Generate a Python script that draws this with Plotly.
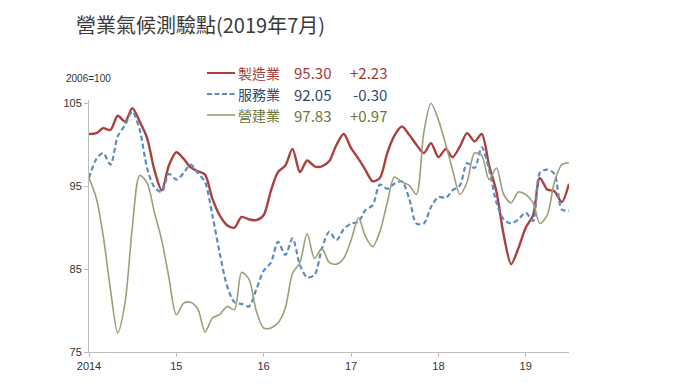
import plotly.graph_objects as go
import pandas as pd

months = pd.date_range("2014-01-01", "2019-07-01", freq="MS")

manufacturing = [101.3, 101.4, 102.0, 101.8, 103.5, 102.8, 104.4, 102.8, 100.8, 97.0,
                 94.5, 97.5, 99.1, 98.3, 97.3, 96.8, 96.4, 93.5, 91.5, 90.3,
                 90.0, 91.3, 91.0, 90.9, 91.5, 94.5, 96.7, 97.5, 99.5, 96.7,
                 98.1, 97.4, 97.4, 98.0, 100.0, 101.3, 99.6, 98.3, 97.0, 95.6,
                 96.0, 99.0, 101.1, 102.2, 101.2, 100.0, 99.0, 100.2, 98.5, 99.5,
                 98.5, 99.8, 101.4, 100.4, 101.3, 97.5, 94.3, 89.1, 85.6, 87.5,
                 90.0, 91.5, 96.0, 94.6, 94.4, 93.1, 95.30]
services = [96.0, 98.3, 99.0, 97.6, 101.0, 102.4, 104.0, 101.8, 97.2, 94.9,
            94.3, 96.5, 95.8, 96.6, 97.6, 96.6, 95.5, 91.5, 87.0, 83.0,
            81.0, 80.8, 80.5, 82.5, 84.8, 85.8, 88.3, 86.7, 88.7, 85.5,
            84.0, 84.3, 87.5, 89.5, 88.5, 89.8, 90.5, 90.7, 92.1, 92.7,
            95.2, 94.7, 95.3, 95.6, 93.5, 90.5, 90.5, 92.5, 93.7, 93.6,
            94.5, 95.1, 97.8, 97.2, 99.7, 97.0, 93.0, 91.0, 90.5, 91.0,
            91.8, 90.8, 96.6, 97.0, 96.5, 92.2, 92.05]
construction = [96.0, 93.5, 89.1, 82.5, 77.3, 81.0, 90.0, 96.3, 95.4, 91.9,
                88.5, 84.0, 79.5, 80.9, 81.0, 80.2, 77.4, 79.1, 79.5, 80.5,
                80.1, 84.6, 83.8, 80.0, 77.9, 77.9, 78.5, 80.3, 84.5, 85.8,
                89.3, 86.3, 87.5, 85.8, 85.6, 86.3, 88.5, 91.2, 89.0, 87.7,
                89.5, 93.0, 96.1, 95.5, 95.1, 94.0, 101.5, 105.0, 103.0, 100.0,
                97.0, 94.0, 95.5, 99.0, 98.7, 95.8, 97.2, 94.0, 93.0, 94.3,
                94.0, 93.0, 90.5, 91.5, 95.5, 97.6, 97.83]

series_names = ["製造業", "服務業", "營建業"]
latest = ["95.30", "92.05", "97.83"]
changes = ["+2.23", "-0.30", "+0.97"]

year_ticks = ["2014-01-01", "2015-01-01", "2016-01-01", "2017-01-01", "2018-01-01", "2019-01-01"]
year_labels = ["2014", "15", "16", "17", "18", "19"]
y_ticks = [75, 85, 95, 105]

line_colors = ["#A8413F", "#5B8DBE", "#9C9F79"]
text_colors = ["#9E3B3A", "#2C4A72", "#6A7638"]
dashes = ["solid", "5px,3px", "solid"]
widths = [2.4, 2.2, 1.6]

# page has an 8px body margin
OFF = 8
W, H = 680, 383
# plot area in page pixels
L, R, T, B = 89, 569, 100, 352


def px(x):
    return (x - L) / (R - L)


def py(y):
    return (B - y) / (B - T)


fig = go.Figure()
for vals, name, c, d, w in zip([manufacturing, services, construction], series_names,
                               line_colors, dashes, widths):
    fig.add_trace(go.Scatter(x=months, y=vals, mode="lines", name=name,
                             line=dict(color=c, dash=d, width=w, shape="spline", smoothing=0.8),
                             showlegend=False))

font_cjk = "Noto Sans CJK TC"
font_lat = "Liberation Sans"

annotations = [
    dict(x=px(74), y=py(25), xref="paper", yref="paper", text="營業氣候測驗點(2019年7月)",
         showarrow=False, xanchor="left", yanchor="middle",
         font=dict(family=font_cjk, size=20, color="#3A3A3A")),
    dict(x=px(64), y=py(78), xref="paper", yref="paper", text="2006=100",
         showarrow=False, xanchor="left", yanchor="middle",
         font=dict(family=font_lat, size=10, color="#333333")),
]
shapes = []
rows_y = [73, 94, 115]
for i in range(3):
    yy = py(rows_y[i])
    shapes.append(dict(type="line", xref="paper", yref="paper", x0=px(207), x1=px(235),
                       y0=yy, y1=yy, line=dict(color=line_colors[i], width=2 if i < 2 else 1.6,
                                               dash="5px,2.5px" if i == 1 else "solid")))
    annotations.append(dict(x=px(236), y=yy, xref="paper", yref="paper", text=series_names[i],
                            showarrow=False, xanchor="left", yanchor="middle",
                            font=dict(family=font_cjk, size=14, color=text_colors[i])))
    annotations.append(dict(x=px(292), y=yy, xref="paper", yref="paper", text=latest[i],
                            showarrow=False, xanchor="left", yanchor="middle",
                            font=dict(family=font_cjk, size=15, color=text_colors[i])))
    annotations.append(dict(x=px(389), y=yy, xref="paper", yref="paper", text=changes[i],
                            showarrow=False, xanchor="right", yanchor="middle",
                            font=dict(family=font_cjk, size=15, color=text_colors[i])))

fig.update_layout(
    width=W, height=H,
    margin=dict(l=L - OFF, r=W - (R - OFF), t=T - OFF, b=H - (B - OFF)),
    paper_bgcolor="white", plot_bgcolor="white",
    annotations=annotations, shapes=shapes,
    xaxis=dict(range=["2014-01-01", "2019-07-01"], tickvals=year_ticks, ticktext=year_labels,
               showgrid=False, zeroline=False, showline=True, linecolor="#BDBDBD", linewidth=1,
               ticks="outside", ticklen=4, tickcolor="#BDBDBD",
               tickfont=dict(family=font_lat, size=11, color="#333333")),
    yaxis=dict(range=[75, 105.4], tickvals=y_ticks, showgrid=False, zeroline=False,
               showline=True, linecolor="#BDBDBD", linewidth=1,
               ticks="outside", ticklen=4, tickcolor="#BDBDBD",
               tickfont=dict(family=font_lat, size=11, color="#333333")),
)

fig.write_html("out.html")
